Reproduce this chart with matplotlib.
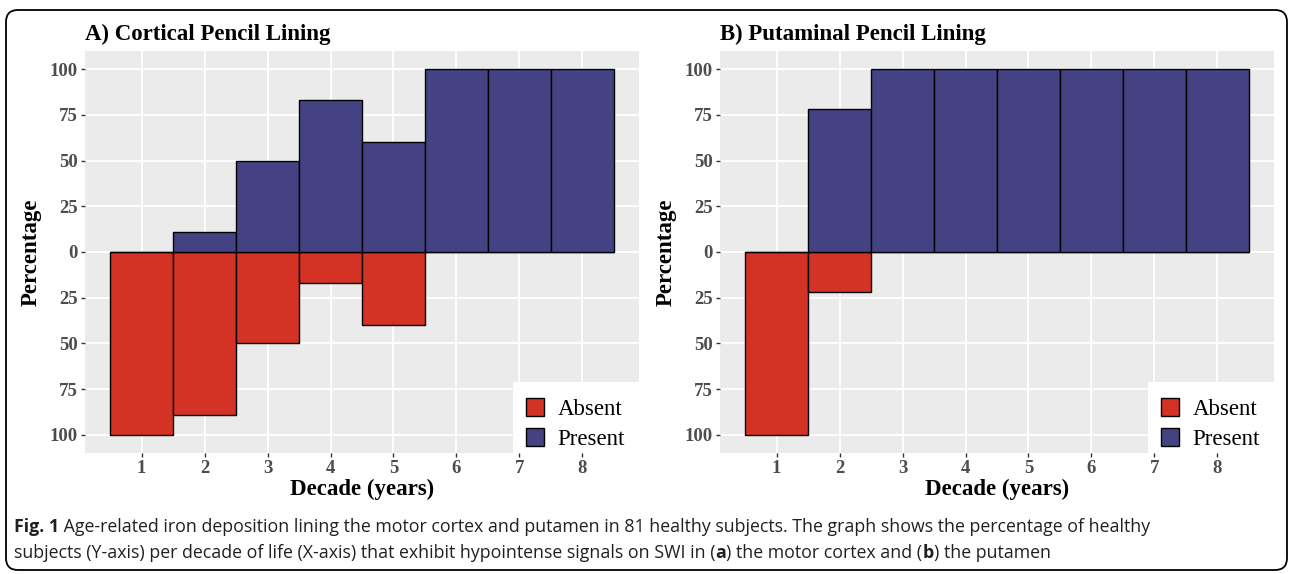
import matplotlib
matplotlib.use("Agg")
import matplotlib.pyplot as plt
import matplotlib.patches as mpatches
import matplotlib.transforms as mtransforms
from matplotlib.font_manager import fontManager

decades = [1, 2, 3, 4, 5, 6, 7, 8]

cortical_present = [0, 11, 50, 83, 60, 100, 100, 100]
cortical_absent = [100, 89, 50, 17, 40, 0, 0, 0]

putaminal_present = [0, 78, 100, 100, 100, 100, 100, 100]
putaminal_absent = [100, 22, 0, 0, 0, 0, 0, 0]

yticks = [-100, -75, -50, -25, 0, 25, 50, 75, 100]
ytick_labels = [str(abs(v)) for v in yticks]

titles = ["A) Cortical Pencil Lining", "B) Putaminal Pencil Lining"]

caption_lines = [
    [("Fig. 1", "bold"),
     (" Age-related iron deposition lining the motor cortex and putamen in 81 healthy subjects. "
      "The graph shows the percentage of healthy", "normal")],
    [("subjects (Y-axis) per decade of life (X-axis) that exhibit hypointense signals on SWI in (", "normal"),
     ("a", "bold"), (") the motor cortex and (", "normal"), ("b", "bold"), (") the putamen", "normal")],
]

RED = "#D33224"
NAVY = "#444282"
PANEL = "#EBEBEB"

W, H = 1290, 574
SERIF = "Liberation Serif"
names = {f.name for f in fontManager.ttflist}
CAPFONT = [n for n in ["Liberation Sans Narrow", "Open Sans", "DejaVu Sans"] if n in names]

fig = plt.figure(figsize=(W / 100, H / 100), dpi=100)


def px_axes(x0, y0, x1, y1):
    return fig.add_axes([x0 / W, 1 - y1 / H, (x1 - x0) / W, (y1 - y0) / H])


panels = [
    (px_axes(85, 51, 639, 453), cortical_present, cortical_absent),
    (px_axes(720, 51, 1274, 453), putaminal_present, putaminal_absent),
]

for i, (ax, present, absent) in enumerate(panels):
    ax.set_facecolor(PANEL)
    ax.bar(decades, [-a for a in absent], width=1, color=RED, edgecolor="black",
           linewidth=1.0, label="Absent", zorder=2)
    ax.bar(decades, present, width=1, color=NAVY, edgecolor="black",
           linewidth=1.0, label="Present", zorder=2)
    ax.set_xlim(0.1, 8.9)
    ax.set_ylim(-110, 110)
    ax.set_xticks(decades)
    ax.set_yticks(yticks)
    ax.set_yticklabels(ytick_labels)
    ax.grid(True, color="white", linewidth=1.3)
    ax.set_axisbelow(True)
    for s in ax.spines.values():
        s.set_visible(False)
    ax.tick_params(length=3, width=1, color="#333333", labelcolor="#4D4D4D", pad=2,
                   labelsize=13.5)
    for lab in ax.get_xticklabels() + ax.get_yticklabels():
        lab.set_fontfamily(SERIF)
        lab.set_fontweight("bold")
    ax.set_title(titles[i], loc="left", fontfamily=SERIF, fontweight="bold",
                 fontsize=16.5, pad=8)
    ax.set_xlabel("Decade (years)", fontfamily=SERIF, fontweight="bold", fontsize=16.5,
                  labelpad=1)
    ax.set_ylabel("Percentage", fontfamily=SERIF, fontweight="bold", fontsize=16.5,
                  labelpad=6)

    # white legend background, as in the ggplot legend box
    box_w = 126 / 554
    box_h = 71 / 402
    ax.add_patch(mpatches.Rectangle((1 - box_w, 0), box_w, box_h, transform=ax.transAxes,
                                    facecolor="white", edgecolor="none", zorder=4,
                                    clip_on=False))
    leg = ax.legend(loc="lower right", bbox_to_anchor=(1 - 7 / 554, -0.002 - 3 / 402),
                    borderaxespad=0, prop={"family": SERIF, "size": 16.5}, frameon=False,
                    handlelength=0.8, handleheight=0.8, handletextpad=0.6,
                    labelspacing=0.35, borderpad=0.3)
    leg.set_zorder(5)
    for h in leg.legend_handles:
        h.set_linewidth(1.0)

# caption, drawn piece by piece so that parts can be bold
fig.canvas.draw()
renderer = fig.canvas.get_renderer()
for line, ypx in zip(caption_lines, [527, 553]):
    x = 14
    for txt, weight in line:
        t = fig.text(x / W, 1 - ypx / H, txt, fontfamily=CAPFONT, fontweight=weight,
                     fontsize=12.75, va="center", ha="left", color="#231F20")
        bb = t.get_window_extent(renderer)
        x = bb.x1

frame = mpatches.FancyBboxPatch((6, H - 570), 1281, 560,
                                boxstyle="round,pad=0,rounding_size=12",
                                transform=mtransforms.IdentityTransform(),
                                facecolor="none", edgecolor="black", linewidth=1.3)
fig.add_artist(frame)

fig.savefig("out.png", dpi=100)
